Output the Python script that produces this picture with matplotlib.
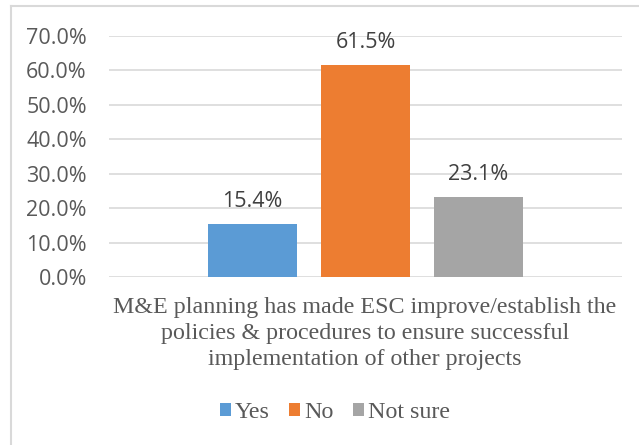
import matplotlib
matplotlib.use("Agg")
import matplotlib.pyplot as plt
from matplotlib.lines import Line2D
from matplotlib.patches import Patch

categories = ["Yes", "No", "Not sure"]
values = [0.154, 0.615, 0.231]
colors = ["#5B9BD5", "#ED7D31", "#A5A5A5"]
yticks = [0.0, 0.1, 0.2, 0.3, 0.4, 0.5, 0.6, 0.7]
xlabel = ("M&E planning has made ESC improve/establish the\n"
          "policies & procedures to ensure successful\n"
          "implementation of other projects")

fig = plt.figure(figsize=(6.39, 4.45), dpi=100)
ax = fig.add_axes([0.1706, 0.3775, 0.8028, 0.5415])

positions = [-1, 0, 1]
bars = ax.bar(positions, values, width=0.796, color=colors, zorder=3)

for x, v in zip(positions, values):
    ax.text(x, v + 0.035, f"{v*100:.1f}%", ha="center", va="bottom",
            fontsize=15.5, color="#404040", family="Open Sans")

ax.set_xlim(-2.27, 2.27)
ax.set_ylim(0, 0.7)
ax.set_yticks(yticks)
ax.set_yticklabels([f"{t*100:.1f}%" for t in yticks], family="Open Sans",
                   fontsize=15.5, color="#595959")
ax.tick_params(axis="y", length=0, pad=16)
ax.set_xticks([])
ax.grid(axis="y", color="#D9D9D9", linewidth=1.2, zorder=0)
for s in ax.spines.values():
    s.set_visible(False)

fig.text(0.5713, 0.332, xlabel, ha="center", va="top", fontsize=17.3,
         family="Liberation Serif", color="#595959", linespacing=1.3)

handles = [Patch(facecolor=c, edgecolor="none") for c in colors]
fig.legend(handles, categories, loc="center", bbox_to_anchor=(0.524, 0.073),
           ncol=3, frameon=False, handlelength=0.47, handleheight=0.47,
           handletextpad=0.15, columnspacing=0.8, borderpad=0,
           prop={"family": "Liberation Serif", "size": 17.3},
           labelcolor="#595959")

# chart area frame (left and top edges)
fig.add_artist(Line2D([0.0165, 0.0165], [0.0, 0.9865], transform=fig.transFigure,
                      color="#D9D9D9", linewidth=1.5))
fig.add_artist(Line2D([0.0165, 1.0], [0.9865, 0.9865], transform=fig.transFigure,
                      color="#D9D9D9", linewidth=1.5))

fig.savefig("out.png", dpi=100, facecolor="white")
